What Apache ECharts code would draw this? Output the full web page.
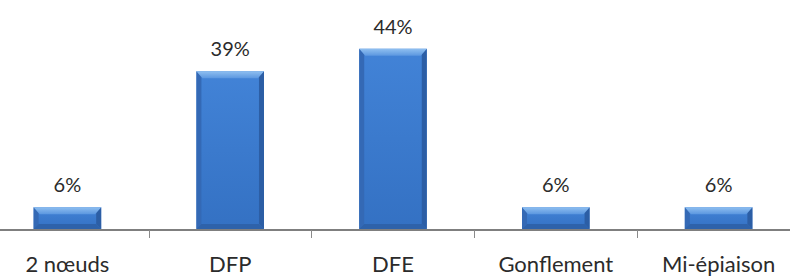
<!DOCTYPE html>
<html>
<head>
<meta charset="utf-8">
<script src="https://cdn.jsdelivr.net/npm/echarts@6/dist/echarts.min.js"></script>
<style>
html,body{margin:0;padding:0;background:#fff;}
#chart{width:790px;height:280px;}
</style>
</head>
<body>
<div id="chart"></div>
<script>
const categories = ['2 nœuds', 'DFP', 'DFE', 'Gonflement', 'Mi-épiaison'];
const values = [5.6, 38.9, 44.4, 5.6, 5.6];

const chart = echarts.init(document.getElementById('chart'), null, {renderer: 'svg'});

function renderBar(params, api) {
  const top = api.coord([api.value(0), api.value(1)]);
  const base = api.coord([api.value(0), 0]);
  const w = api.size([1, 0])[0] * 0.415;
  const x0 = top[0] - w / 2, x1 = top[0] + w / 2;
  const yT = top[1], yB = base[1] - 1;
  const h = yB - yT;
  const b = Math.min(5, h / 3);
  return {
    type: 'group',
    children: [
      {type: 'rect', shape: {x: x0, y: yT, width: w, height: h},
        style: {fill: new echarts.graphic.LinearGradient(0, 0, 0, 1, [
          {offset: 0, color: '#4283d7'}, {offset: 1, color: '#3471c3'}])}},
      {type: 'polygon', shape: {points: [[x0, yT], [x0 + b, yT + b], [x0 + b, yB - b], [x0, yB]]},
        style: {fill: '#3469b5'}},
      {type: 'polygon', shape: {points: [[x1, yT], [x1 - b, yT + b], [x1 - b, yB - b], [x1, yB]]},
        style: {fill: '#2c5ea5'}},
      {type: 'polygon', shape: {points: [[x0, yB], [x1, yB], [x1 - b, yB - b], [x0 + b, yB - b]]},
        style: {fill: '#2e62aa'}},
      {type: 'polygon', shape: {points: [[x0, yT], [x1, yT], [x1 - b - 1, yT + b + 2], [x0 + b + 1, yT + b + 2]]},
        style: {fill: new echarts.graphic.LinearGradient(0, 0, 0, 1, [
          {offset: 0, color: '#8fbff0'}, {offset: 1, color: '#5b97e0'}])}}
    ]
  };
}

chart.setOption({
  animation: false,
  grid: {left: -14, width: 814, top: 26, bottom: 50, outerBoundsMode: 'none', containLabel: false},
  xAxis: {type: 'category', data: categories, z: 10,
    axisLine: {show: true, onZero: false, lineStyle: {color: '#7f7f7f', width: 2, opacity: 1}},
    axisTick: {show: true, length: 8, lineStyle: {color: '#8a8a8a', width: 1}},
    axisLabel: {fontFamily: 'Lato', fontSize: 22, color: '#2b2b2b', margin: 22}},
  yAxis: {type: 'value', min: 0, max: 50, show: false},
  series: [
    {type: 'custom', renderItem: renderBar, clip: false,
      data: values.map((v, i) => [i, v]), z: 3},
    {type: 'bar', data: values, barWidth: '41.5%',
      itemStyle: {color: 'rgba(0,0,0,0)'}, z: 4,
      label: {show: true, position: 'top', distance: 13,
        fontFamily: 'Lato', fontSize: 20, color: '#2b2b2b',
        formatter: p => Math.round(p.value) + '%'}}
  ]
});
</script>
</body>
</html>
